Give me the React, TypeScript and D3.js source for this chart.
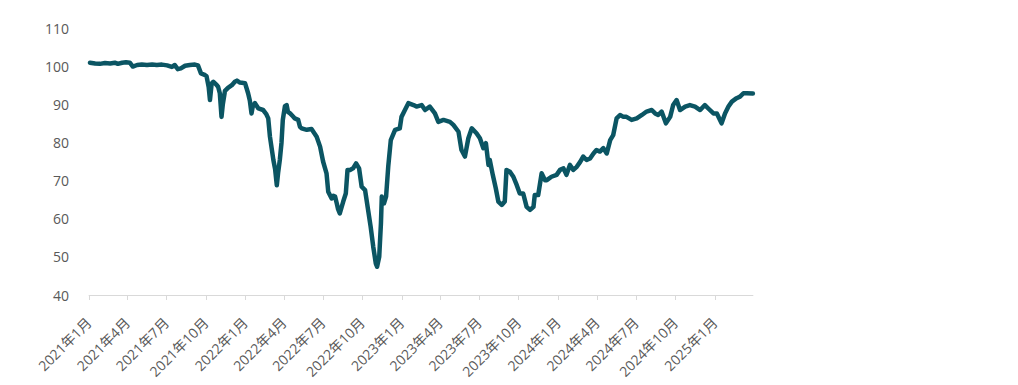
import React from "react";
import * as d3 from "d3";

const dates: string[] = [
  "2021-01-04","2021-01-16","2021-01-27","2021-02-08","2021-02-20","2021-03-03","2021-03-10","2021-03-20","2021-03-29","2021-04-07",
  "2021-04-14","2021-04-24","2021-05-05","2021-05-17","2021-05-29","2021-06-09","2021-06-21","2021-07-03","2021-07-14","2021-07-21",
  "2021-07-28","2021-08-04","2021-08-14","2021-08-25","2021-09-06","2021-09-13","2021-09-20","2021-09-27","2021-10-03","2021-10-08",
  "2021-10-11","2021-10-15","2021-10-19","2021-10-27","2021-10-30","2021-11-03","2021-11-07","2021-11-10","2021-11-15","2021-11-22",
  "2021-12-01","2021-12-08","2021-12-13","2021-12-20","2022-01-01","2022-01-08","2022-01-12","2022-01-16","2022-01-19","2022-01-24",
  "2022-02-01","2022-02-12","2022-02-19","2022-02-24","2022-02-28","2022-03-08","2022-03-12","2022-03-16","2022-03-19","2022-03-23",
  "2022-03-27","2022-03-30","2022-04-04","2022-04-08","2022-04-11","2022-04-16","2022-04-23","2022-04-27","2022-05-05","2022-05-09",
  "2022-05-13","2022-05-25","2022-06-05","2022-06-17","2022-06-25","2022-07-02","2022-07-10","2022-07-14","2022-07-22","2022-07-26",
  "2022-07-30","2022-08-03","2022-08-06","2022-08-10","2022-08-18","2022-08-24","2022-08-28","2022-09-03","2022-09-10","2022-09-17",
  "2022-09-24","2022-09-30","2022-10-08","2022-10-15","2022-10-21","2022-10-27","2022-11-02","2022-11-05","2022-11-10","2022-11-14",
  "2022-11-16","2022-11-21","2022-11-26","2022-12-01","2022-12-07","2022-12-17","2022-12-28","2023-01-01","2023-01-09","2023-01-17",
  "2023-01-29","2023-02-05","2023-02-17","2023-02-25","2023-03-08","2023-03-20","2023-03-28","2023-04-09","2023-04-24","2023-05-02",
  "2023-05-14","2023-05-21","2023-05-29","2023-06-06","2023-06-14","2023-06-25","2023-07-03","2023-07-11","2023-07-17","2023-07-23",
  "2023-07-26","2023-08-02","2023-08-09","2023-08-15","2023-08-23","2023-08-30","2023-09-03","2023-09-11","2023-09-19","2023-09-27",
  "2023-10-04","2023-10-12","2023-10-20","2023-10-28","2023-11-05","2023-11-08","2023-11-16","2023-11-24","2023-12-02","2023-12-06",
  "2023-12-17","2023-12-29","2024-01-06","2024-01-14","2024-01-21","2024-01-29","2024-02-06","2024-02-14","2024-02-22","2024-02-29",
  "2024-03-08","2024-03-16","2024-03-24","2024-03-31","2024-04-08","2024-04-16","2024-04-24","2024-05-02","2024-05-09","2024-05-17",
  "2024-05-25","2024-06-02","2024-06-09","2024-06-21","2024-07-03","2024-07-15","2024-07-26","2024-08-07","2024-08-15","2024-08-22",
  "2024-08-30","2024-09-09","2024-09-19","2024-09-26","2024-10-04","2024-10-12","2024-10-24","2024-11-04","2024-11-16","2024-11-28",
  "2024-12-09","2024-12-17","2024-12-29","2025-01-06","2025-01-17","2025-01-25","2025-02-02","2025-02-10","2025-02-21","2025-03-01",
  "2025-03-09","2025-03-17","2025-03-31",
];

const values: number[] = [
  100.9,100.7,100.6,100.8,100.7,100.9,100.6,100.9,101.0,100.9,
  99.9,100.3,100.4,100.3,100.4,100.3,100.4,100.2,99.8,100.3,
  99.2,99.4,100.1,100.3,100.4,100.2,98.1,97.8,97.4,94.5,
  91.1,95.5,95.9,95.0,94.6,92.9,86.7,90.0,93.5,94.3,
  95.0,95.9,96.2,95.7,95.5,92.9,91.0,87.6,89.5,90.3,
  88.9,88.5,87.5,86.3,81.5,75.4,73.0,68.8,72.0,75.4,
  80.0,85.9,89.5,89.8,88.0,87.6,86.8,86.3,85.9,84.1,
  83.7,83.3,83.5,81.5,78.9,75.0,71.9,67.1,65.3,66.0,
  65.8,64.0,62.5,61.4,64.5,66.6,72.8,72.8,73.2,74.5,
  73.2,68.4,67.5,62.3,57.9,52.7,48.3,47.4,50.0,58.8,
  65.8,64.0,65.8,73.6,80.6,83.3,83.7,86.7,88.5,90.3,
  89.8,89.4,89.8,88.5,89.4,87.6,85.4,85.9,85.4,84.6,
  82.8,78.0,76.3,81.1,83.7,82.4,81.1,78.5,79.8,74.1,
  75.4,71.5,68.0,64.5,63.6,64.5,72.8,72.3,71.0,68.8,
  66.6,66.6,63.1,62.3,63.1,66.2,66.2,71.9,70.1,70.1,
  71.0,71.5,72.8,73.2,71.5,74.1,72.8,73.6,74.9,76.3,
  75.4,75.8,77.1,78.0,77.6,78.5,77.1,80.6,81.9,86.3,
  87.2,86.7,86.7,85.9,86.3,87.2,88.1,88.5,87.6,87.2,
  88.1,85.0,86.7,89.8,91.1,88.5,89.4,89.8,89.4,88.5,
  89.8,88.9,87.6,87.6,85.0,87.6,89.4,90.7,91.6,92.0,
  92.9,92.9,92.8,
];

const yTicks: number[] = [40, 50, 60, 70, 80, 90, 100, 110];
const xTickLabels: string[] = [
  "2021年1月","2021年4月","2021年7月","2021年10月",
  "2022年1月","2022年4月","2022年7月","2022年10月",
  "2023年1月","2023年4月","2023年7月","2023年10月",
  "2024年1月","2024年4月","2024年7月","2024年10月",
  "2025年1月",
];
const xTickDates: string[] = [
  "2021-01-01","2021-04-01","2021-07-01","2021-10-01",
  "2022-01-01","2022-04-01","2022-07-01","2022-10-01",
  "2023-01-01","2023-04-01","2023-07-01","2023-10-01",
  "2024-01-01","2024-04-01","2024-07-01","2024-10-01",
  "2025-01-01",
];

const W = 1018;
const H = 385;
const FONT = "'Open Sans', 'Noto Sans CJK SC', sans-serif";
const TEXT = "#595959";
const LINE = "#0b5563";

export default function App() {
  const parse = d3.timeParse("%Y-%m-%d");
  const x = d3
    .scaleTime()
    .domain([parse("2021-01-01")!, parse("2025-04-01")!])
    .range([88.7, 753.3]);
  const y = d3.scaleLinear().domain([40, 110]).range([295, 28]);

  const pts: [Date, number][] = dates.map((d, i) => [parse(d)!, values[i]]);
  const line = d3
    .line<[Date, number]>()
    .x((d) => x(d[0]))
    .y((d) => y(d[1]))
    .curve(d3.curveLinear);

  return (
    <svg
      width={W}
      height={H}
      style={{ position: "absolute", left: 0, top: 0, background: "#fff" }}
    >
      {yTicks.map((t) => (
        <text
          key={t}
          x={69}
          y={y(t)}
          textAnchor="end"
          dominantBaseline="central"
          fontFamily={FONT}
          fontSize={14}
          fill={TEXT}
        >
          {t}
        </text>
      ))}
      <line x1={88.7} x2={753.3} y1={295.5} y2={295.5} stroke="#d9d9d9" strokeWidth={1} />
      {xTickDates.map((d, i) => {
        const xx = Math.round(x(parse(d)!)) + 0.5;
        return (
          <g key={d}>
            <line x1={xx} x2={xx} y1={295.5} y2={300} stroke="#d9d9d9" strokeWidth={1} />
            <text
              transform={`translate(${x(parse(d)!)},320) rotate(-45)`}
              textAnchor="end"
              dominantBaseline="central"
              fontFamily={FONT}
              fontSize={14}
              fill={TEXT}
            >
              {xTickLabels[i]}
            </text>
          </g>
        );
      })}
      <path
        d={line(pts) || ""}
        fill="none"
        stroke={LINE}
        strokeWidth={4.5}
        strokeLinejoin="round"
        strokeLinecap="round"
      />
    </svg>
  );
}
